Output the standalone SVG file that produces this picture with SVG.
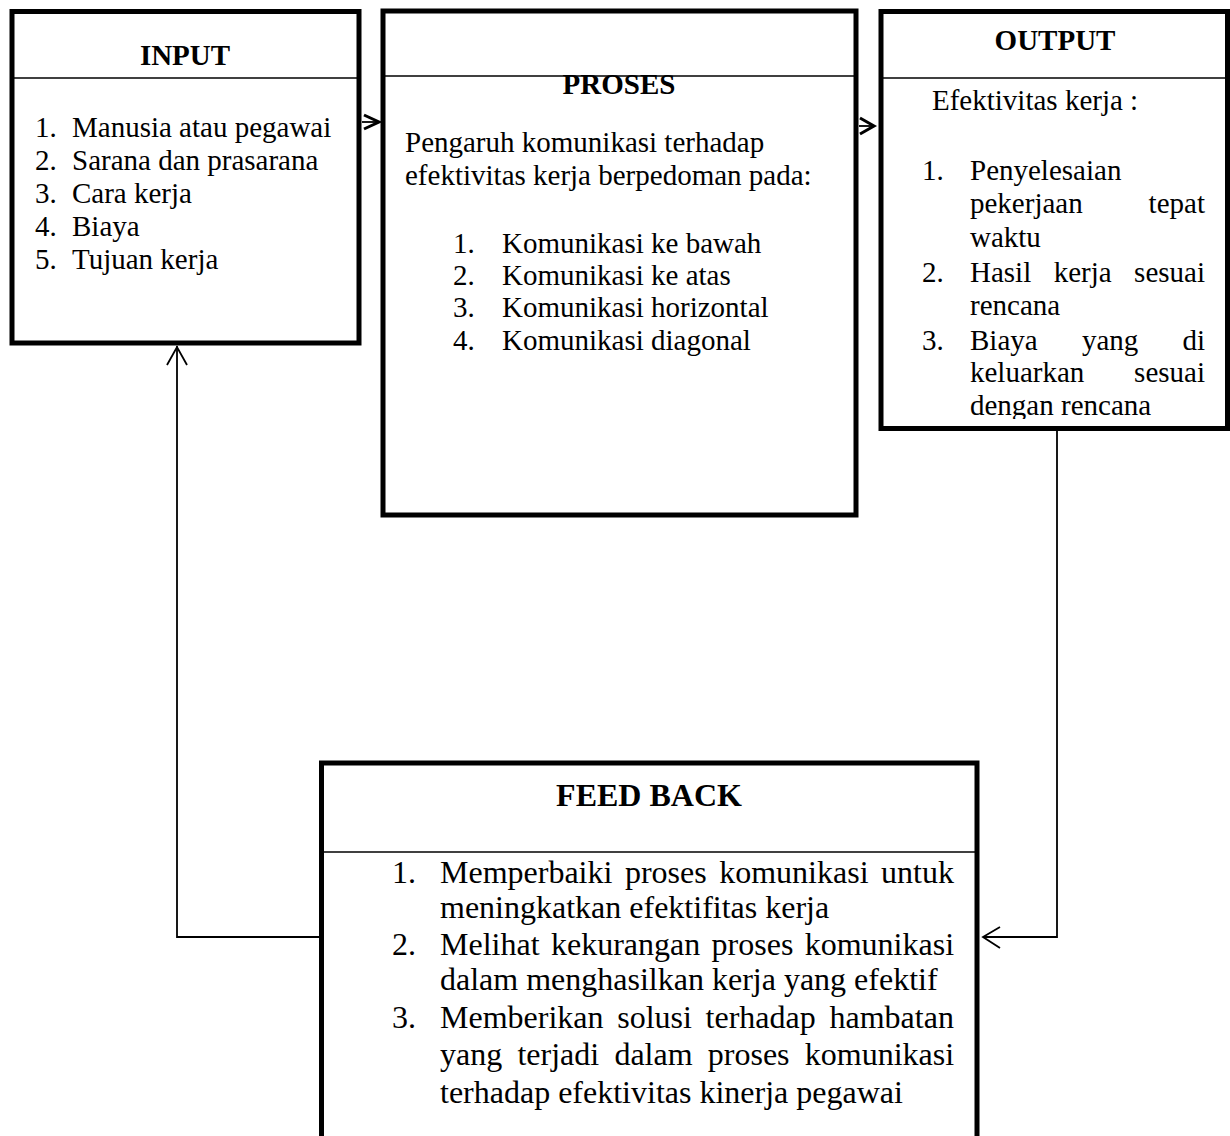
<svg xmlns="http://www.w3.org/2000/svg" width="1230" height="1136" viewBox="0 0 1230 1136">
<style>
.box{fill:#fff;stroke:#000;stroke-width:5}
.div{stroke:#000;stroke-width:1.5}
.t{font-family:"Liberation Serif","Times New Roman",serif;font-size:29px;fill:#000}
.tb{font-family:"Liberation Serif","Times New Roman",serif;font-size:29px;font-weight:bold;fill:#000}
.f{font-family:"Liberation Serif","Times New Roman",serif;font-size:32px;fill:#000}
.fb{font-family:"Liberation Serif","Times New Roman",serif;font-size:32px;font-weight:bold;fill:#000}
.c{fill:none;stroke:#000;stroke-width:1.8}
.ah{fill:none;stroke:#000;stroke-width:3}
</style>
<defs>
<clipPath id="outclip"><rect x="880" y="14" width="345" height="405"/></clipPath>
</defs>
<rect width="1230" height="1136" fill="#fff"/>

<g id="input">
<rect class="box" x="12" y="11.5" width="347" height="331.5"/>
<line class="div" x1="14" y1="78" x2="357" y2="78"/>
<text class="tb" x="185" y="65" text-anchor="middle">INPUT</text>
<text class="t"><tspan x="35" y="137">1.</tspan><tspan x="72" y="137">Manusia atau pegawai</tspan></text>
<text class="t"><tspan x="35" y="170">2.</tspan><tspan x="72" y="170">Sarana dan prasarana</tspan></text>
<text class="t"><tspan x="35" y="203">3.</tspan><tspan x="72" y="203">Cara kerja</tspan></text>
<text class="t"><tspan x="35" y="236">4.</tspan><tspan x="72" y="236">Biaya</tspan></text>
<text class="t"><tspan x="35" y="269">5.</tspan><tspan x="72" y="269">Tujuan kerja</tspan></text>
</g>

<g id="proses">
<rect class="box" x="383" y="11" width="473" height="504"/>
<line class="div" x1="385" y1="76" x2="854" y2="76"/>
<text class="tb" x="619" y="94" text-anchor="middle">PROSES</text>
<text class="t" x="405" y="152">Pengaruh komunikasi terhadap</text>
<text class="t" x="405" y="185">efektivitas kerja berpedoman pada:</text>
<text class="t"><tspan x="453" y="253">1.</tspan><tspan x="502" y="253">Komunikasi ke bawah</tspan></text>
<text class="t"><tspan x="453" y="285">2.</tspan><tspan x="502" y="285">Komunikasi ke atas</tspan></text>
<text class="t"><tspan x="453" y="317">3.</tspan><tspan x="502" y="317">Komunikasi horizontal</tspan></text>
<text class="t"><tspan x="453" y="350">4.</tspan><tspan x="502" y="350">Komunikasi diagonal</tspan></text>
</g>

<g id="output">
<rect class="box" x="881" y="11.5" width="346.5" height="417"/>
<line class="div" x1="883" y1="78" x2="1225" y2="78"/>
<text class="tb" x="1055" y="50" text-anchor="middle">OUTPUT</text>
<text class="t" x="932" y="110">Efektivitas kerja :</text>
<text class="t"><tspan x="922" y="180">1.</tspan><tspan x="970" y="180">Penyelesaian</tspan></text>
<text class="t"><tspan x="970" y="213">pekerjaan</tspan><tspan x="1148.6" y="213">tepat</tspan></text>
<text class="t" x="970" y="247">waktu</text>
<text class="t"><tspan x="922" y="282">2.</tspan><tspan x="970" y="282">Hasil</tspan><tspan x="1053.7" y="282">kerja</tspan><tspan x="1134.1" y="282">sesuai</tspan></text>
<text class="t" x="970" y="315">rencana</text>
<text class="t"><tspan x="922" y="350">3.</tspan><tspan x="970" y="350">Biaya</tspan><tspan x="1081.9" y="350">yang</tspan><tspan x="1182.4" y="350">di</tspan></text>
<text class="t"><tspan x="970" y="382">keluarkan</tspan><tspan x="1134.1" y="382">sesuai</tspan></text>
<text class="t" x="970" y="415" clip-path="url(#outclip)">dengan rencana</text>
</g>

<g id="feedback">
<path d="M321.5,1140 V763 H977 V1140" fill="#fff" stroke="#000" stroke-width="5"/>
<line class="div" x1="324" y1="852" x2="975" y2="852"/>
<text class="fb" x="649" y="806" text-anchor="middle">FEED BACK</text>
<text class="f"><tspan x="392" y="883">1.</tspan><tspan x="440" y="883">Memperbaiki</tspan><tspan x="624.9" y="883">proses</tspan><tspan x="719.2" y="883">komunikasi</tspan><tspan x="881" y="883">untuk</tspan></text>
<text class="f" x="440" y="918">meningkatkan efektifitas kerja</text>
<text class="f"><tspan x="392" y="955">2.</tspan><tspan x="440" y="955">Melihat</tspan><tspan x="551" y="955">kekurangan</tspan><tspan x="711.6" y="955">proses</tspan><tspan x="804.7" y="955">komunikasi</tspan></text>
<text class="f" x="440" y="990">dalam menghasilkan kerja yang efektif</text>
<text class="f"><tspan x="392" y="1028">3.</tspan><tspan x="440" y="1028">Memberikan</tspan><tspan x="617.2" y="1028">solusi</tspan><tspan x="705.6" y="1028">terhadap</tspan><tspan x="829.5" y="1028">hambatan</tspan></text>
<text class="f"><tspan x="440" y="1065">yang</tspan><tspan x="517.4" y="1065">terjadi</tspan><tspan x="614.4" y="1065">dalam</tspan><tspan x="707.8" y="1065">proses</tspan><tspan x="804.8" y="1065">komunikasi</tspan></text>
<text class="f" x="440" y="1103">terhadap efektivitas kinerja pegawai</text>
</g>

<g id="connectors">
<line class="c" x1="362" y1="122" x2="379" y2="122"/>
<polyline class="ah" points="364,115 379,122 364,129"/>
<line class="c" x1="859" y1="126" x2="874" y2="126"/>
<polyline class="ah" points="860,118 874,126 860,134"/>
<polyline class="c" points="1057,431 1057,937 983,937"/>
<polyline class="c" points="1000,927 983,937 1000,948"/>
<polyline class="c" points="319,937 177,937 177,346"/>
<polyline class="c" points="167,365 177,347 187,365"/>
</g>
</svg>
